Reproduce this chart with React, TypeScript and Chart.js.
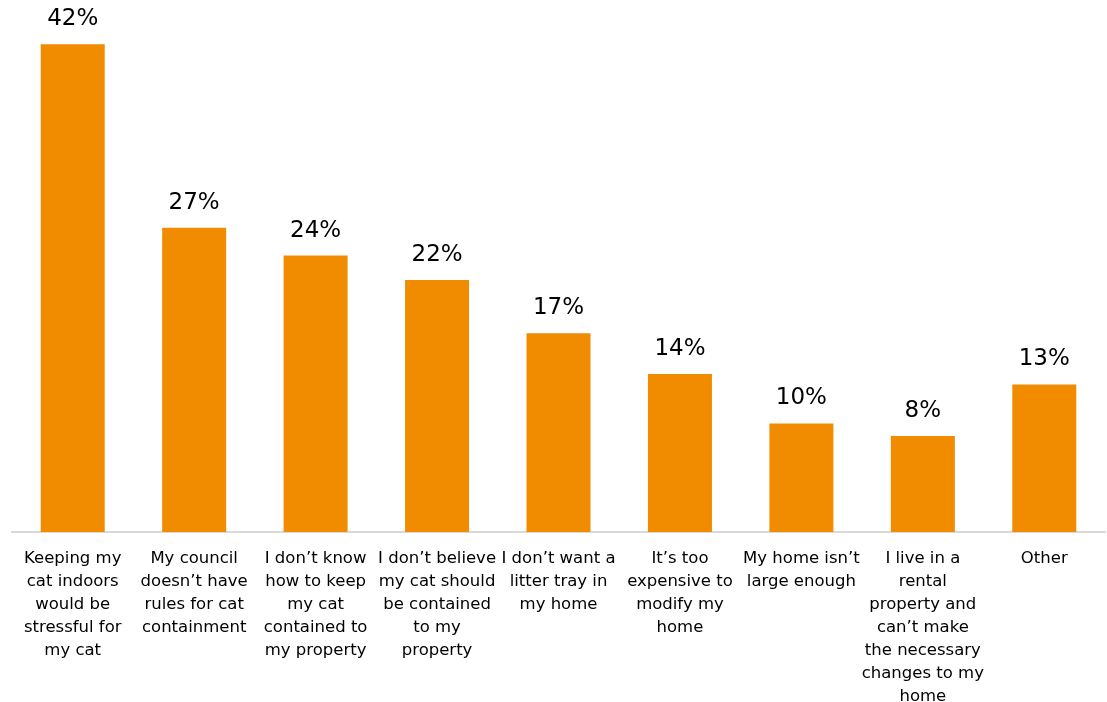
import React, { useEffect, useRef } from "react";
import { Chart, registerables } from "chart.js";

Chart.register(...registerables);

const categories: string[][] = [
  ["Keeping my", "cat indoors", "would be", "stressful for", "my cat"],
  ["My council", "doesn’t have", "rules for cat", "containment"],
  ["I don’t know", "how to keep", "my cat", "contained to", "my property"],
  ["I don’t believe", "my cat should", "be contained", "to my", "property"],
  ["I don’t want a", "litter tray in", "my home"],
  ["It’s too", "expensive to", "modify my", "home"],
  ["My home isn’t", "large enough"],
  ["I live in a", "rental", "property and", "can’t make", "the necessary", "changes to my", "home"],
  ["Other"],
];

const values: number[] = [42.0, 26.2, 23.8, 21.7, 17.1, 13.6, 9.35, 8.26, 12.7];

const valueLabels: string[] = ["42%", "27%", "24%", "22%", "17%", "14%", "10%", "8%", "13%"];

const BAR_COLOR = "#F18B00";
const FONT = "'DejaVu Sans', Tahoma, Verdana, sans-serif";

const valueLabelPlugin = {
  id: "valueLabels",
  afterDatasetsDraw(chart: any) {
    const ctx = chart.ctx;
    const meta = chart.getDatasetMeta(0);
    ctx.save();
    ctx.fillStyle = "#000000";
    ctx.font = `23px ${FONT}`;
    ctx.textAlign = "center";
    ctx.textBaseline = "middle";
    meta.data.forEach((bar: any, i: number) => {
      ctx.fillText(valueLabels[i], bar.x, bar.y - 25);
    });
    ctx.restore();
  },
};

export default function App() {
  const canvasRef = useRef<HTMLCanvasElement | null>(null);

  useEffect(() => {
    if (!canvasRef.current) return;
    const chart = new Chart(canvasRef.current, {
      type: "bar",
      data: {
        labels: categories,
        datasets: [
          {
            data: values,
            backgroundColor: BAR_COLOR,
            borderWidth: 0,
            categoryPercentage: 1,
            barPercentage: 0.527,
          },
        ],
      },
      options: {
        responsive: false,
        animation: false,
        layout: { padding: { left: 12, right: 2, top: 0, bottom: 0 } },
        plugins: {
          legend: { display: false },
          tooltip: { enabled: false },
          title: { display: false },
        },
        scales: {
          x: {
            grid: { display: false, drawTicks: false },
            border: { display: true, color: "#D9D9D9", width: 2 },
            ticks: {
              autoSkip: false,
              maxRotation: 0,
              minRotation: 0,
              padding: 15,
              color: "#000000",
              font: { family: FONT, size: 16.5, lineHeight: 1.394 },
            },
            afterFit(scale: any) {
              scale.height = 170;
            },
          },
          y: {
            display: false,
            min: 0,
            max: 45.8,
          },
        },
      },
      plugins: [valueLabelPlugin],
    });
    return () => chart.destroy();
  }, []);

  return (
    <div style={{ position: "fixed", left: 0, top: 0, width: 1107, height: 702, background: "#fff" }}>
      <canvas ref={canvasRef} width={1107} height={702} style={{ display: "block" }} />
    </div>
  );
}
